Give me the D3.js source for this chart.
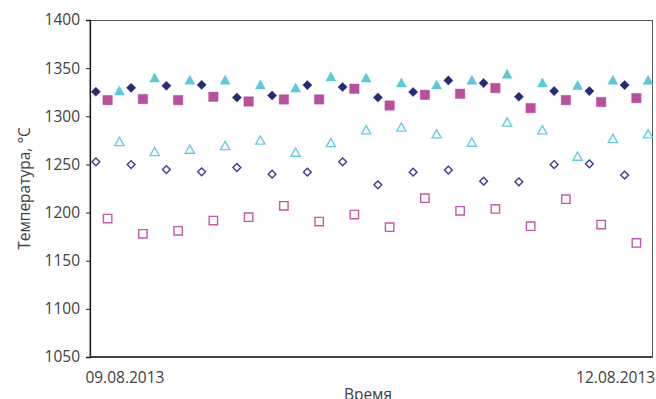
<!DOCTYPE html>
<html>
<head>
<meta charset="utf-8">
<script src="https://cdn.jsdelivr.net/npm/d3@7/dist/d3.min.js"></script>
<style>
  html, body { margin: 0; padding: 0; background: #fff; }
  svg { display: block; }
  text { font-family: "Open Sans", "Noto Sans", sans-serif; fill: #404040; }
</style>
</head>
<body>
<svg id="chart" width="656" height="399"></svg>
<script>
// Measurement slots along the time axis (three readings per cycle)
const slotCount = 48;
const dateLabels = ["09.08.2013", "12.08.2013"];
const yTicks = [1050, 1100, 1150, 1200, 1250, 1300, 1350, 1400];

// Temperature readings, °C, one value per cycle (every third slot)
const upperA = [1325.5, 1329.6, 1331.7, 1332.7, 1319.5, 1321.6, 1332.4, 1330.4, 1319.5, 1325.2, 1337.2, 1334.5, 1320.3, 1326.2, 1326.2, 1332.4];
const upperB = [1316.8, 1317.9, 1316.8, 1320.3, 1315.4, 1317.5, 1317.5, 1328.6, 1311.2, 1322.3, 1323.4, 1329.3, 1308.5, 1316.8, 1314.8, 1318.9];
const upperC = [1326.8, 1340.3, 1337.9, 1337.9, 1333.1, 1329.9, 1341.4, 1340.3, 1335.1, 1333.1, 1337.9, 1344.2, 1335.1, 1332.4, 1337.9, 1337.9];
const lowerA = [1252.7, 1249.9, 1244.7, 1242.3, 1246.8, 1239.9, 1242.0, 1252.7, 1228.8, 1242.0, 1244.1, 1232.6, 1231.9, 1249.9, 1250.6, 1238.9];
const lowerB = [1193.8, 1177.9, 1181.0, 1191.7, 1195.2, 1207.0, 1190.6, 1197.9, 1184.8, 1215.0, 1201.8, 1203.8, 1185.9, 1213.9, 1187.5, 1168.5];
const lowerC = [1273.8, 1263.4, 1265.9, 1269.6, 1275.3, 1262.8, 1272.8, 1286.0, 1288.8, 1281.8, 1273.2, 1294.0, 1286.0, 1258.6, 1276.9, 1281.8];

// How each series is drawn
const seriesList = [
  { values: upperA, offset: 0, shape: "diamond",  filled: true,  color: "#272b74" },
  { values: upperB, offset: 1, shape: "square",   filled: true,  color: "#b8509d" },
  { values: upperC, offset: 2, shape: "triangle", filled: true,  color: "#5ec8d8" },
  { values: lowerA, offset: 0, shape: "diamond",  filled: false, color: "#3a3d92" },
  { values: lowerB, offset: 1, shape: "square",   filled: false, color: "#c25aa9" },
  { values: lowerC, offset: 2, shape: "triangle", filled: false, color: "#66cddd" }
];

const margin = { left: 90, right: 2, top: 20, bottom: 42 };
const W = 656, H = 399;
const svg = d3.select("#chart");

const x = d3.scalePoint()
  .domain(d3.range(slotCount))
  .range([margin.left, W - margin.right])
  .padding(0.5);

const y = d3.scaleLinear()
  .domain([1050, 1400])
  .range([H - margin.bottom, margin.top]);

const plotL = margin.left, plotR = W - margin.right;
const plotT = margin.top, plotB = H - margin.bottom;

// Plot frame
svg.append("rect")
  .attr("x", plotL).attr("y", plotT + 0.5)
  .attr("width", plotR - plotL - 1.5).attr("height", plotB - plotT - 0.5)
  .attr("fill", "none").attr("stroke", "#555").attr("stroke-width", 1);

// Y axis with outside ticks
const yAxis = d3.axisLeft(y).tickValues(yTicks).tickSize(4).tickPadding(6).tickFormat(d3.format("d"));
const gy = svg.append("g").attr("transform", `translate(${plotL},0)`).call(yAxis);
gy.select(".domain").attr("stroke", "#222").attr("stroke-width", 1.3);
gy.selectAll(".tick line").attr("stroke", "#222");
gy.selectAll(".tick text").style("font-size", "15.5px").style("font-family", null).attr("fill", "#404040");
gy.attr("font-family", null).attr("font-size", null);

// Bottom axis line
svg.append("line")
  .attr("x1", plotL).attr("x2", plotR - 1.5)
  .attr("y1", plotB).attr("y2", plotB)
  .attr("stroke", "#222").attr("stroke-width", 1.3);

// Date labels at the first and last slots, kept inside the chart
const dateG = svg.append("g").style("font-size", "15.5px");
dateG.append("text")
  .attr("x", x(0) - 10.5).attr("y", plotB + 26)
  .attr("text-anchor", "start").text(dateLabels[0]);
dateG.append("text")
  .attr("x", x(slotCount - 1) + 7).attr("y", plotB + 26)
  .attr("text-anchor", "end").text(dateLabels[1]);

// Axis titles
svg.append("text")
  .attr("x", (plotL + plotR) / 2 - 4).attr("y", plotB + 43)
  .attr("text-anchor", "middle").style("font-size", "15.5px").text("Время");
svg.append("text")
  .attr("transform", `translate(30,${(plotT + plotB) / 2}) rotate(-90)`)
  .attr("text-anchor", "middle").style("font-size", "15.5px").text("Температура, °C");

// Marker outlines centred on their bounding box
function markerPath(shape, filled) {
  if (shape === "diamond") {
    const r = filled ? 4.6 : 3.9;
    return `M0,${-r}L${r},0L0,${r}L${-r},0Z`;
  }
  if (shape === "square") {
    const h = filled ? 4.7 : 4.2;
    return `M${-h},${-h}H${h}V${h}H${-h}Z`;
  }
  const hw = filled ? 5 : 4.6, hh = filled ? 4.5 : 4.1;
  return `M0,${-hh}L${hw},${hh}L${-hw},${hh}Z`;
}

seriesList.forEach(s => {
  const pts = s.values.map((v, i) => ({ slot: i * 3 + s.offset, v }));
  svg.append("g").selectAll("path")
    .data(pts)
    .join("path")
    .attr("transform", d => `translate(${x(d.slot)},${y(d.v)})`)
    .attr("d", markerPath(s.shape, s.filled))
    .attr("fill", s.filled ? s.color : "#fff")
    .attr("stroke", s.color)
    .attr("stroke-width", s.filled ? 0.5 : 1.4)
    .attr("stroke-linejoin", "miter");
});
</script>
</body>
</html>
